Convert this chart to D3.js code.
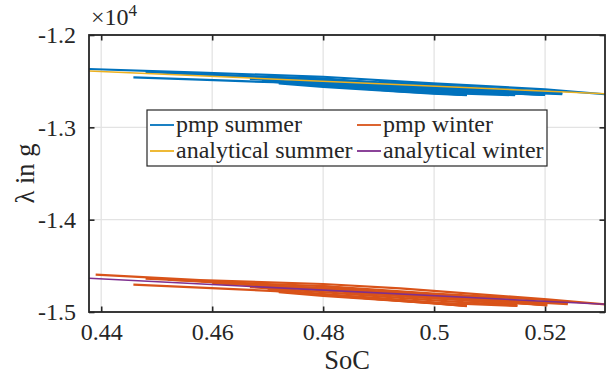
<!DOCTYPE html>
<html>
<head>
<meta charset="utf-8">
<script src="https://cdn.jsdelivr.net/npm/d3@7"></script>
<style>
  body { margin: 0; background: #fff; }
  svg { display: block; }
  text { font-family: "Liberation Serif", "DejaVu Serif", "Times New Roman", serif; fill: #262626; }
</style>
</head>
<body>
<svg id="chart" width="609" height="374"></svg>
<script>
// ticks and ranges
const xTicks = [0.44, 0.46, 0.48, 0.5, 0.52];
const yTicks = [-12000, -13000, -14000, -15000];
const xDomain = [0.4378, 0.5308];
const yDomain = [-15000, -12000];

const seriesNames = ["pmp summer", "pmp winter", "analytical summer", "analytical winter"];
const seriesColors = ["#0072BD", "#D95319", "#EDB120", "#7E2F8E"];

// analytical solutions, straight lines [SoC, lambda]
const analyticalSummer = [[0.4378, -12390], [0.5308, -12636]];
const analyticalWinter = [[0.4378, -14635], [0.5308, -14917]];

// pmp trajectories, one array per run
const pmpSummer = [
  [[0.4378, -12368], [0.4578, -12408], [0.48, -12452], [0.4998, -12523], [0.52, -12588], [0.5308, -12642]],
  [[0.4458, -12458], [0.4578, -12483], [0.4710, -12512], [0.4939, -12600], [0.5059, -12650]],
  [[0.4480, -12400], [0.4627, -12440], [0.48, -12470], [0.5146, -12650]],
  [[0.4520, -12410], [0.4668, -12452], [0.48, -12490], [0.5, -12570], [0.52, -12650]],
  [[0.4580, -12420], [0.48, -12508], [0.5, -12590], [0.5231, -12640]],
  [[0.4600, -12435], [0.48, -12480], [0.5, -12555], [0.52, -12625]],
  [[0.4668, -12475], [0.48, -12528], [0.5, -12610], [0.5146, -12645]],
  [[0.4690, -12495], [0.48, -12548], [0.4939, -12612], [0.5059, -12648]],
  [[0.4700, -12465], [0.49, -12530], [0.51, -12600], [0.5231, -12632]],
  [[0.4720, -12525], [0.48, -12562], [0.4998, -12636], [0.5059, -12652]],
  [[0.4750, -12505], [0.49, -12565], [0.5059, -12630]],
  [[0.4780, -12540], [0.49, -12590], [0.5, -12625], [0.5146, -12652]],
  [[0.48, -12480], [0.5, -12545], [0.52, -12610], [0.5231, -12625]],
  [[0.4850, -12530], [0.51, -12625], [0.52, -12645]],
  [[0.49, -12505], [0.51, -12580], [0.52, -12625]],
  [[0.495, -12560], [0.5146, -12635], [0.52, -12650]]
];

const pmpWinter = [
  [[0.4390, -14596], [0.4578, -14654], [0.48, -14697], [0.4939, -14745], [0.5204, -14863], [0.5308, -14918]],
  [[0.4458, -14704], [0.4714, -14773], [0.4939, -14880], [0.5059, -14935]],
  [[0.4480, -14640], [0.4627, -14680], [0.48, -14720], [0.5150, -14925]],
  [[0.4520, -14650], [0.4668, -14700], [0.48, -14745], [0.5, -14830], [0.5204, -14925]],
  [[0.4580, -14665], [0.48, -14765], [0.5, -14850], [0.5241, -14905]],
  [[0.4600, -14690], [0.48, -14740], [0.5, -14825], [0.52, -14900]],
  [[0.4668, -14730], [0.48, -14785], [0.5, -14875], [0.5150, -14930]],
  [[0.4700, -14755], [0.48, -14805], [0.4939, -14875], [0.5059, -14930]],
  [[0.4700, -14720], [0.49, -14790], [0.51, -14870], [0.5241, -14915]],
  [[0.4720, -14785], [0.48, -14825], [0.4998, -14905], [0.5059, -14937]],
  [[0.4750, -14790], [0.49, -14850], [0.5059, -14925]],
  [[0.4780, -14805], [0.49, -14860], [0.5, -14900], [0.5150, -14935]],
  [[0.48, -14720], [0.5, -14800], [0.52, -14870], [0.5241, -14890]],
  [[0.4850, -14790], [0.51, -14890], [0.52, -14920]],
  [[0.49, -14770], [0.51, -14850], [0.52, -14900]],
  [[0.495, -14830], [0.515, -14905], [0.5204, -14928]]
];

const svg = d3.select("#chart");
const plot = { left: 89, right: 605, top: 35, bottom: 312 };
const axisColor = "#262626";
const serif = "'Liberation Serif', 'DejaVu Serif', 'Times New Roman', serif";

const x = d3.scaleLinear().domain(xDomain).range([plot.left, plot.right]);
const y = d3.scaleLinear().domain(yDomain).range([plot.bottom, plot.top]);

// grid
svg.append("g").selectAll("line").data(xTicks).join("line")
  .attr("x1", d => x(d)).attr("x2", d => x(d))
  .attr("y1", plot.top).attr("y2", plot.bottom)
  .attr("stroke", "#e3e3e3").attr("stroke-width", 1.3);
svg.append("g").selectAll("line").data(yTicks).join("line")
  .attr("y1", d => y(d)).attr("y2", d => y(d))
  .attr("x1", plot.left).attr("x2", plot.right)
  .attr("stroke", "#e3e3e3").attr("stroke-width", 1.3);

// clip to axes
svg.append("clipPath").attr("id", "clip")
  .append("rect")
  .attr("x", plot.left).attr("y", plot.top)
  .attr("width", plot.right - plot.left).attr("height", plot.bottom - plot.top);

const line = d3.line().x(d => x(d[0])).y(d => y(d[1]));
const lines = svg.append("g").attr("clip-path", "url(#clip)");

lines.selectAll(".pmpS").data(pmpSummer).join("path")
  .attr("d", line).attr("fill", "none")
  .attr("stroke", seriesColors[0]).attr("stroke-width", 2.2);
lines.selectAll(".pmpW").data(pmpWinter).join("path")
  .attr("d", line).attr("fill", "none")
  .attr("stroke", seriesColors[1]).attr("stroke-width", 2.2);
lines.append("path").datum(analyticalSummer)
  .attr("d", line).attr("fill", "none")
  .attr("stroke", seriesColors[2]).attr("stroke-width", 1.5);
lines.append("path").datum(analyticalWinter)
  .attr("d", line).attr("fill", "none")
  .attr("stroke", seriesColors[3]).attr("stroke-width", 1.5);

// axes with inward ticks on all four sides
const tickLen = 5.5;
const fmtX = d3.format("~g");
const fmtY = d => d3.format("~g")(d / 10000).replace("\u2212", "-");

const xBottom = svg.append("g").attr("transform", `translate(0,${plot.bottom})`)
  .call(d3.axisBottom(x).tickValues(xTicks).tickSizeInner(-tickLen).tickSizeOuter(0).tickPadding(11).tickFormat(fmtX));
const xTop = svg.append("g").attr("transform", `translate(0,${plot.top})`)
  .call(d3.axisTop(x).tickValues(xTicks).tickSizeInner(-tickLen).tickSizeOuter(0).tickFormat(""));
const yLeft = svg.append("g").attr("transform", `translate(${plot.left},0)`)
  .call(d3.axisLeft(y).tickValues(yTicks).tickSizeInner(-tickLen).tickSizeOuter(0).tickPadding(13).tickFormat(fmtY));
const yRight = svg.append("g").attr("transform", `translate(${plot.right},0)`)
  .call(d3.axisRight(y).tickValues(yTicks).tickSizeInner(-tickLen).tickSizeOuter(0).tickFormat(""));

[xBottom, xTop, yLeft, yRight].forEach(g => {
  g.attr("font-family", null);
  g.select(".domain").remove();
  g.selectAll(".tick line").attr("stroke", axisColor).attr("stroke-width", 1.6);
  g.selectAll("text").attr("fill", axisColor).style("font-size", "24px")
    .style("font-family", serif);
});
xBottom.selectAll("text").attr("dy", "0.71em");

// box
svg.append("rect")
  .attr("x", plot.left).attr("y", plot.top)
  .attr("width", plot.right - plot.left).attr("height", plot.bottom - plot.top)
  .attr("fill", "none").attr("stroke", axisColor).attr("stroke-width", 1.8);

// exponent label
const expo = svg.append("text").attr("x", 91).attr("y", 25).style("font-size", "24px");
expo.append("tspan").text("×10");
expo.append("tspan").attr("dy", -9).style("font-size", "17px").text("4");

// axis labels
svg.append("text")
  .attr("x", (plot.left + plot.right) / 2).attr("y", 369)
  .attr("text-anchor", "middle").style("font-size", "26.5px")
  .text("SoC");
svg.append("text")
  .attr("transform", `translate(34,${(plot.top + plot.bottom) / 2}) rotate(-90)`)
  .attr("text-anchor", "middle").style("font-size", "26.5px")
  .text("λ in g");

// legend, two columns
const legend = svg.append("g");
legend.append("rect")
  .attr("x", 147).attr("y", 110).attr("width", 400).attr("height", 56)
  .attr("fill", "#fff").attr("stroke", axisColor).attr("stroke-width", 1.2);

const colX = [150, 357];
const rowY = [125, 151];
seriesNames.forEach((name, i) => {
  const cx = colX[i % 2];
  const cy = rowY[Math.floor(i / 2)];
  legend.append("line")
    .attr("x1", cx).attr("x2", cx + 24).attr("y1", cy).attr("y2", cy)
    .attr("stroke", seriesColors[i]).attr("stroke-width", 1.8);
  legend.append("text")
    .attr("x", cx + 26).attr("y", cy + 7)
    .style("font-size", "24px")
    .text(name);
});
</script>
</body>
</html>
